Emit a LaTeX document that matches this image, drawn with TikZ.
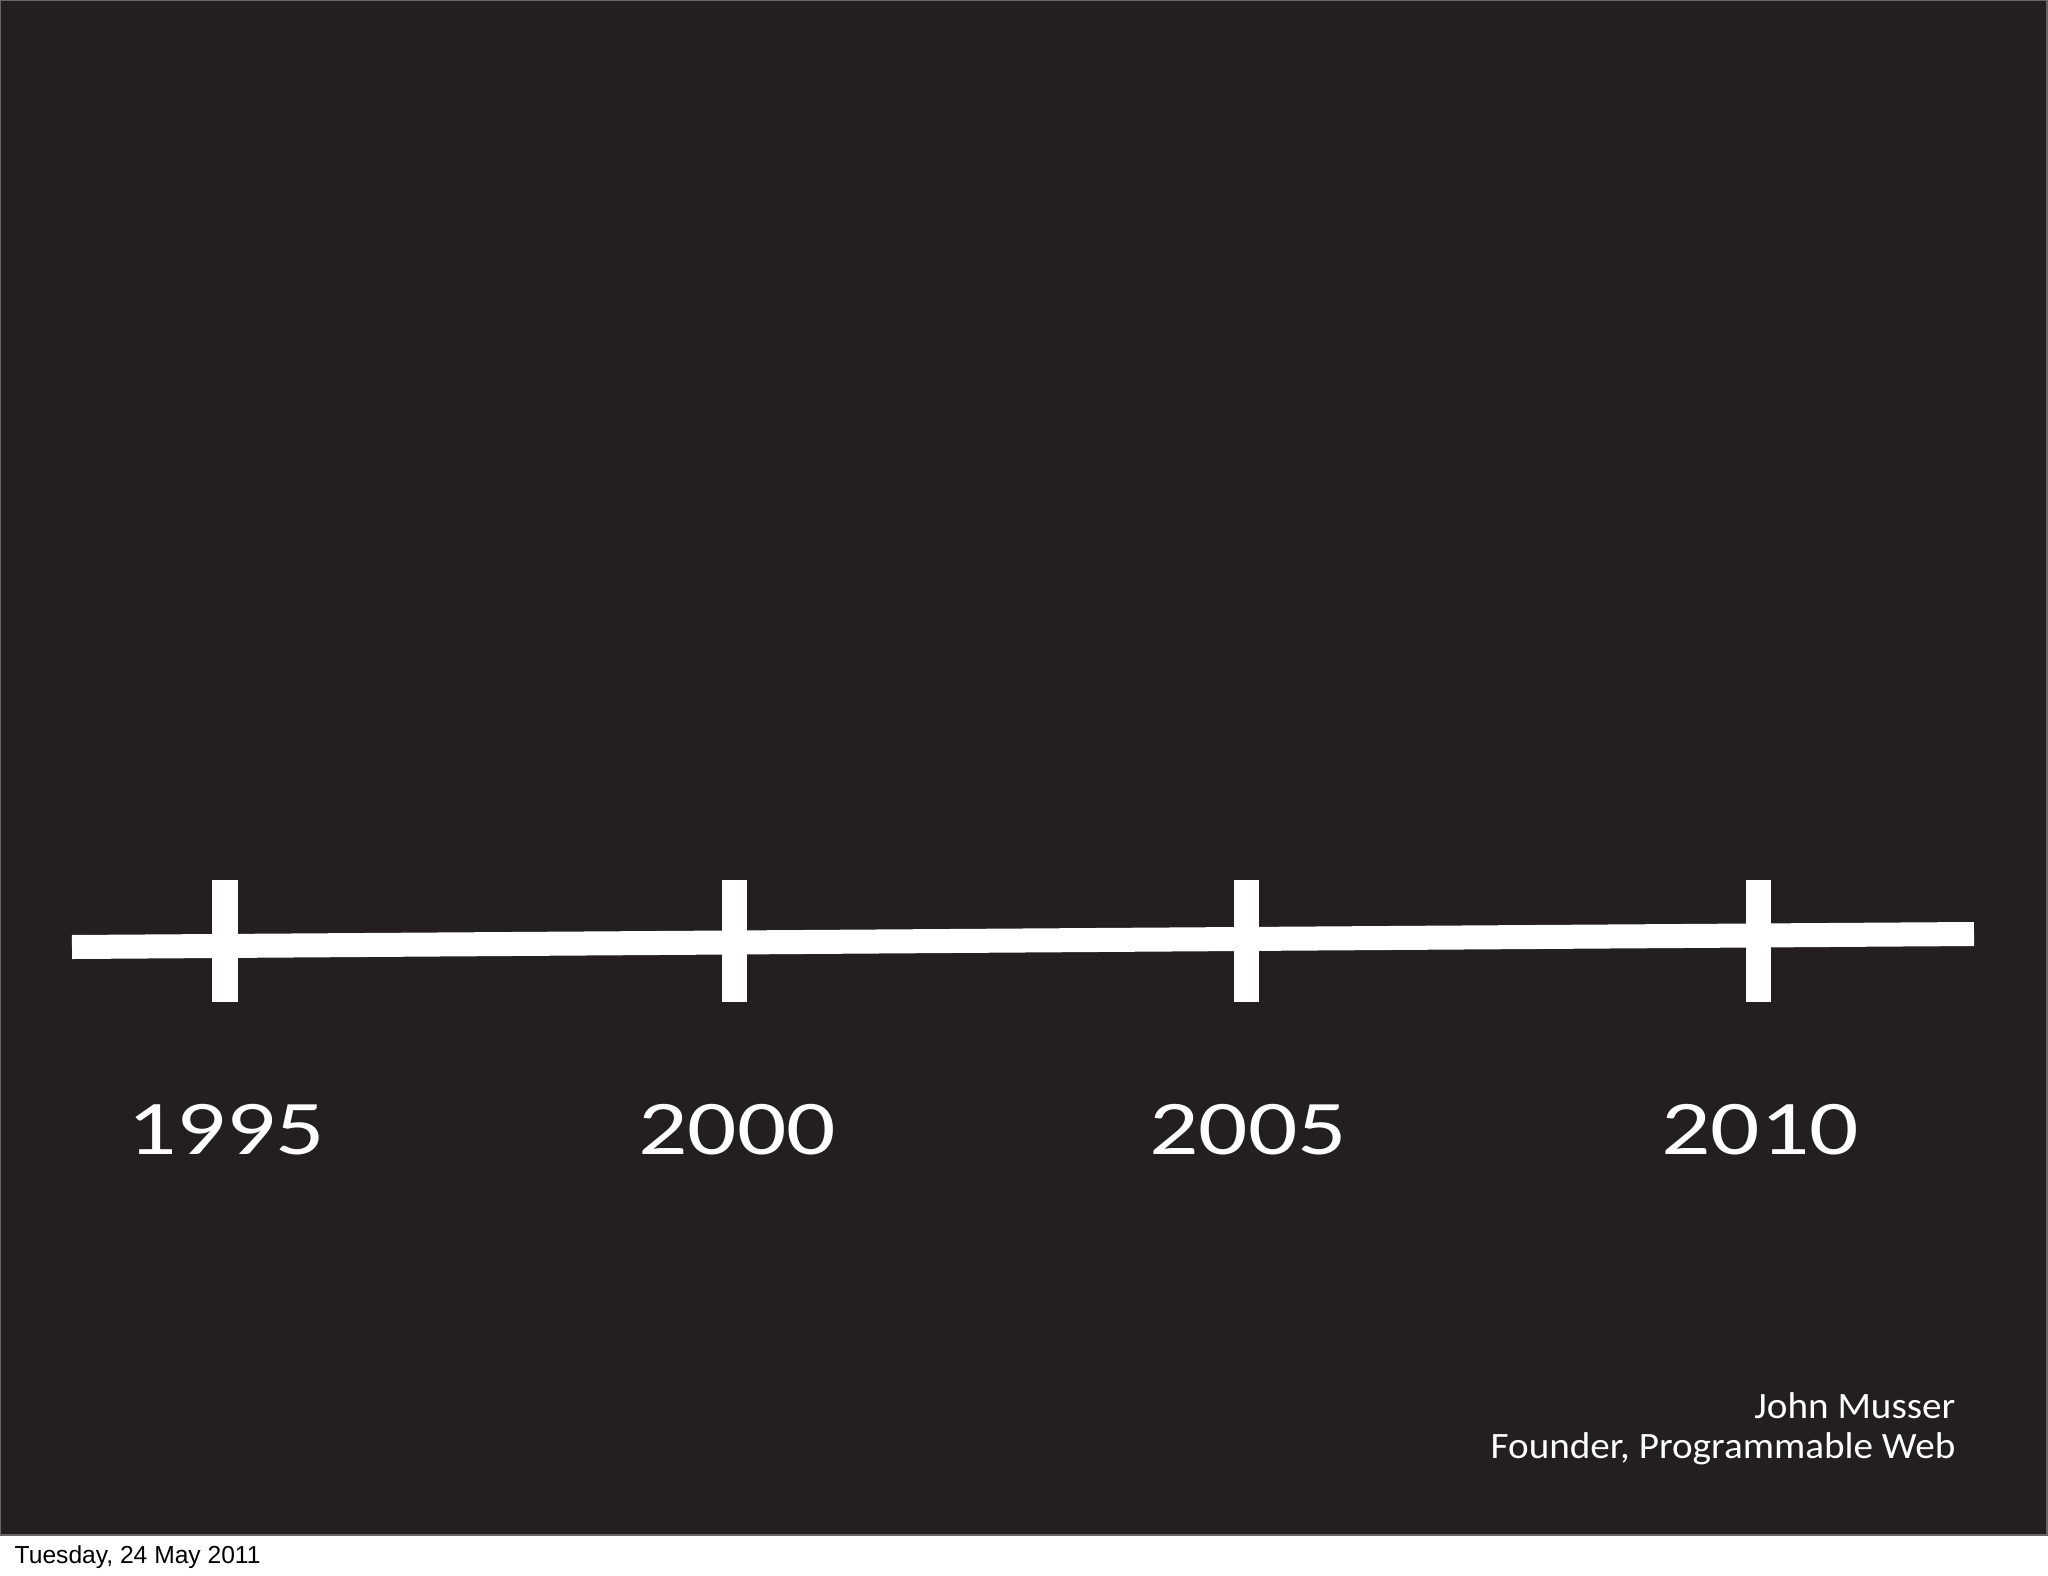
\documentclass[tikz,border=0pt]{standalone}
\usepackage{fontspec}
\setmainfont{Carlito}
\newfontfamily\datefont{Liberation Sans}
\usepackage{xcolor}
\usetikzlibrary{positioning}
\definecolor{slidebg}{HTML}{231F20}

\begin{document}
\begin{tikzpicture}[
  x=0.01cm, y=-0.01cm,
  axis/.style={draw=white, line width=0.24cm},
  tick/.style={draw=white, line width=0.25cm},
  year/.style={text=white, font=\fontsize{22}{26}\selectfont\addfontfeature{FakeStretch=1.26}, anchor=base, inner sep=0pt},
  credit/.style={text=white, font=\fontsize{10.6}{13}\selectfont\addfontfeature{FakeStretch=1.05}, anchor=base east, inner sep=0pt},
]
% page and slide
\fill[white] (0,0) rectangle (2048,1576);
\useasboundingbox (0,0) rectangle (2048,1576);
\fill[slidebg, draw=black!60, line width=0.02cm] (0,0) rectangle (2047,1535);

% time axis
\coordinate (start) at (72,947);
\coordinate (stop) at (1974,934);
\draw[axis] (start) -- (stop);

\coordinate (t1995) at (225,941);
\coordinate (t2000) at (734,941);
\coordinate (t2005) at (1246,941);
\coordinate (t2010) at (1758,941);
\draw[tick] ([yshift=-0.61cm]t1995) -- ([yshift=0.61cm]t1995);
\draw[tick] ([yshift=-0.61cm]t2000) -- ([yshift=0.61cm]t2000);
\draw[tick] ([yshift=-0.61cm]t2005) -- ([yshift=0.61cm]t2005);
\draw[tick] ([yshift=-0.61cm]t2010) -- ([yshift=0.61cm]t2010);

\node[year] (y1995) at (226,1154) {1995};
\node[year] (y2000) at (737,1154) {2000};
\node[year] (y2005) at (1248,1154) {2005};
\node[year] (y2010) at (1760,1154) {2010};

% credit
\node[credit] (name) at (1956,1418) {John Musser};
\node[credit] (role) at (1956,1458) {Founder, Programmable Web};

% print date
\node[anchor=base west, inner sep=0pt, font=\datefont\fontsize{7}{9}\selectfont] (date) at (14,1563) {Tuesday, 24 May 2011};
\end{tikzpicture}
\end{document}
